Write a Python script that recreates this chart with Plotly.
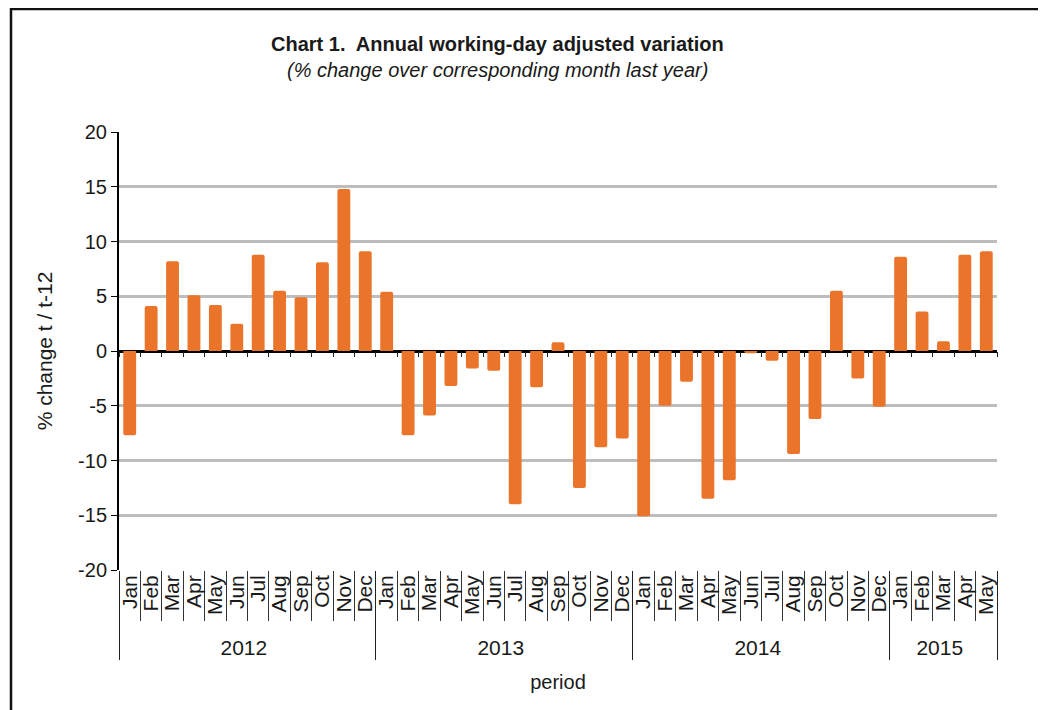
import plotly.graph_objects as go

years = ["2012"] * 12 + ["2013"] * 12 + ["2014"] * 12 + ["2015"] * 5
months = (["Jan", "Feb", "Mar", "Apr", "May", "Jun", "Jul", "Aug", "Sep", "Oct", "Nov", "Dec"] * 3
          + ["Jan", "Feb", "Mar", "Apr", "May"])
values = [
    -7.7, 4.1, 8.2, 5.1, 4.2, 2.5, 8.8, 5.5, 4.9, 8.1, 14.8, 9.1,
    5.4, -7.7, -5.9, -3.2, -1.6, -1.8, -14.0, -3.3, 0.8, -12.5, -8.8, -8.0,
    -15.1, -5.0, -2.8, -13.5, -11.8, -0.2, -0.9, -9.4, -6.2, 5.5, -2.5, -5.1,
    8.6, 3.6, 0.9, 8.8, 9.1,
]
y_ticks = [20, 15, 10, 5, 0, -5, -10, -15, -20]

title = "<b>Chart 1.  Annual working-day adjusted variation</b>"
subtitle = "<i>(% change over corresponding month last year)</i>"
y_title = "% change t / t-12"
x_title = "period"

narrow = "Liberation Sans Narrow, Arial Narrow, Liberation Sans, Arial, sans-serif"
sans = "Liberation Sans, Arial, sans-serif"
orange = "#E9742A"
ink = "#1a1a1a"

# page body adds an 8px offset; plot area spans screen x 119..997, y 132..570
OFF = 8
PX0, PX1, PY0, PY1 = 119, 997, 132, 570
PW, PH = PX1 - PX0, PY1 - PY0


def px(x):
    return (x - PX0) / PW


def py(y):
    return (PY1 - y) / PH


fig = go.Figure()
fig.add_trace(go.Bar(
    x=[years, months], y=values,
    marker=dict(color=orange, cornerradius=2, line=dict(width=0)),
    hoverinfo="skip",
))
idx = [f"{y}-{m}" for y, m in zip(years, months)]
fig.add_trace(go.Scatter(
    x=idx, y=[0] * len(idx), xaxis="x2", mode="markers",
    marker=dict(size=0.1, opacity=0), hoverinfo="skip", showlegend=False,
))

W, H = 1046 - OFF, 710 - OFF
fig.update_layout(
    width=W, height=H,
    margin=dict(l=PX0 - OFF, r=W - (PX1 - OFF), t=PY0 - OFF, b=H - (PY1 - OFF)),
    paper_bgcolor="white", plot_bgcolor="white",
    showlegend=False, bargap=0.4,
    font=dict(family=sans, size=18, color=ink),
    xaxis=dict(
        type="multicategory",
        tickmode="linear", tick0=0, dtick=1,
        tickangle=-90,
        tickfont=dict(family=sans, size=21, color=ink),
        ticks="outside", ticklen=50, tickcolor="#333333", tickwidth=1,
        showline=False, showgrid=False, zeroline=False,
        dividercolor="#222222", dividerwidth=1,
        title=dict(text=x_title, font=dict(family=sans, size=20, color=ink), standoff=16),
    ),
    xaxis2=dict(
        type="category", overlaying="x", anchor="free", position=0.5,
        side="bottom", range=[-0.5, len(idx) - 0.5],
        tickmode="linear", tick0=0, dtick=1,
        ticks="outside", ticklen=5, tickcolor="#222222", tickwidth=1,
        tickson="boundaries",
        showticklabels=False, showgrid=False, showline=False, zeroline=False,
    ),
    yaxis=dict(
        range=[-20, 20], tickvals=y_ticks, ticktext=[str(v) for v in y_ticks],
        showgrid=True, gridcolor="#BDBDBF", gridwidth=2.5,
        zeroline=True, zerolinecolor="#000000", zerolinewidth=2.5,
        showline=True, linecolor="#000000", linewidth=2,
        ticks="outside", ticklen=6, tickcolor="#000000", tickwidth=1,
        tickfont=dict(family=sans, size=20, color=ink),
        title=dict(text=y_title, font=dict(family=sans, size=21, color=ink), standoff=20),
    ),
)

# outer frame
fig.add_shape(type="rect", xref="paper", yref="paper",
              x0=px(11), x1=px(1044), y0=py(730), y1=py(9),
              line=dict(color="#111111", width=2.5), fillcolor="rgba(0,0,0,0)", layer="below")

fig.add_annotation(text=title, xref="paper", yref="paper",
                   x=px(497), y=py(44), showarrow=False,
                   font=dict(family=narrow, size=20, color=ink), yanchor="middle")
fig.add_annotation(text=subtitle, xref="paper", yref="paper",
                   x=px(497), y=py(70), showarrow=False,
                   font=dict(family=narrow, size=20, color=ink), yanchor="middle")

fig.write_html("out.html")
